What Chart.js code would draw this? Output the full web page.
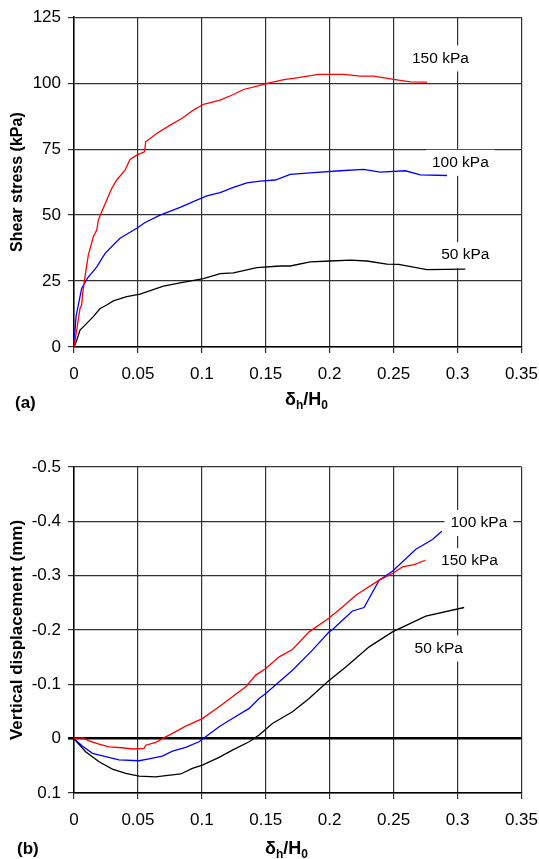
<!DOCTYPE html>
<html>
<head>
<meta charset="utf-8">
<script src="https://cdn.jsdelivr.net/npm/chart.js@4.4.1/dist/chart.umd.min.js"></script>
<style>
  html, body { margin: 0; padding: 0; background: #fff; overflow: hidden; }
  /* a bit wider than the window so the "0.35" overflow padding lands off-screen */
  .panel { position: absolute; left: 0; width: 549px; }
  #wrapA { top: 0; height: 420px; }
  #wrapB { top: 420px; height: 439px; }
</style>
</head>
<body>
<div class="panel" id="wrapA"><canvas id="chartA"></canvas></div>
<div class="panel" id="wrapB"><canvas id="chartB"></canvas></div>
<script>
// ---- data ----
const xTicks = [0, 0.05, 0.1, 0.15, 0.2, 0.25, 0.3, 0.35];
const shearTicks = [0, 25, 50, 75, 100, 125];
const vertTicks = [-0.5, -0.4, -0.3, -0.2, -0.1, 0, 0.1];

// (a) shear stress
const shearX150 = [0, 0.0021, 0.0047, 0.006, 0.0068, 0.0086, 0.0112, 0.0151, 0.0178, 0.019, 0.0217, 0.0256, 0.0295, 0.0334, 0.0399, 0.0438, 0.0491, 0.0551, 0.0561, 0.0647, 0.0752, 0.0843, 0.0934, 0.1012, 0.1143, 0.1247, 0.1326, 0.1456, 0.1509, 0.1652, 0.1717, 0.1913, 0.2109, 0.2239, 0.2343, 0.25, 0.2631, 0.2761];
const shear150 = [0, 6.4, 14.6, 15.9, 20.3, 26.6, 34.8, 41.8, 44.3, 48.1, 51.3, 55.7, 60.1, 63.3, 67, 71.1, 72.7, 74, 77.8, 80.9, 84.1, 86.6, 89.8, 92, 93.6, 95.7, 97.6, 99.2, 99.9, 101.4, 101.8, 103.3, 103.3, 102.7, 102.7, 101.4, 100.5, 100.4];

const shearX100 = [0, 0.0016, 0.0039, 0.006, 0.0104, 0.0178, 0.0243, 0.0321, 0.036, 0.0425, 0.0491, 0.0556, 0.0673, 0.083, 0.096, 0.1039, 0.1143, 0.1247, 0.1352, 0.1456, 0.1574, 0.1691, 0.1848, 0.2083, 0.2265, 0.2396, 0.2592, 0.2709, 0.2918];
const shear100 = [1.5, 11.5, 17.2, 22.2, 26, 30.4, 35.5, 39.3, 41.2, 43.1, 45, 47.2, 50, 52.9, 55.7, 57.3, 58.5, 60.5, 62.2, 62.9, 63.3, 65.4, 66, 66.8, 67.3, 66.3, 66.8, 65.2, 65];

const shearX50 = [0, 0.0021, 0.0047, 0.0086, 0.0151, 0.0204, 0.0256, 0.0308, 0.0412, 0.0517, 0.0699, 0.083, 0.1012, 0.1143, 0.1247, 0.143, 0.1613, 0.1691, 0.1848, 0.2004, 0.2161, 0.2291, 0.2448, 0.2539, 0.2761, 0.3061];
const shear50 = [0, 2.5, 6.4, 8.3, 11.5, 14.6, 15.9, 17.5, 19.1, 20, 23.1, 24.3, 25.9, 27.8, 28.1, 30.1, 30.7, 30.7, 32.3, 32.6, 32.9, 32.6, 31.4, 31.3, 29.3, 29.5];

// (b) vertical displacement
const vertX150 = [0, 0.0065, 0.0117, 0.0196, 0.0274, 0.0378, 0.0457, 0.0548, 0.0561, 0.0639, 0.0691, 0.077, 0.0874, 0.1004, 0.1135, 0.1239, 0.1344, 0.1422, 0.15, 0.1605, 0.1709, 0.1839, 0.1996, 0.21, 0.2204, 0.2387, 0.2491, 0.2569, 0.2661, 0.2747];
const vert150 = [0, -0.002, 0.004, 0.01, 0.015, 0.0167, 0.019, 0.018, 0.012, 0.007, 0, -0.0097, -0.0232, -0.037, -0.0587, -0.077, -0.0955, -0.117, -0.129, -0.1506, -0.164, -0.1966, -0.222, -0.2425, -0.264, -0.2917, -0.304, -0.316, -0.3205, -0.3284];

const vertX100 = [0, 0.0065, 0.0144, 0.0248, 0.0352, 0.0509, 0.0587, 0.0691, 0.077, 0.0874, 0.0978, 0.103, 0.1135, 0.1239, 0.137, 0.1448, 0.15, 0.1605, 0.1709, 0.1865, 0.1996, 0.2022, 0.21, 0.2178, 0.2269, 0.2387, 0.2491, 0.2674, 0.2804, 0.2877];
const vert100 = [0, 0.0136, 0.027, 0.033, 0.039, 0.0406, 0.037, 0.032, 0.023, 0.016, 0.0057, -0.0035, -0.0219, -0.037, -0.0557, -0.074, -0.083, -0.1047, -0.126, -0.163, -0.1966, -0.201, -0.218, -0.235, -0.2414, -0.2917, -0.3082, -0.3487, -0.3665, -0.3817];

const vertX50 = [0, 0.0091, 0.0196, 0.03, 0.0405, 0.0509, 0.064, 0.0718, 0.0835, 0.0926, 0.1004, 0.1135, 0.1239, 0.137, 0.1448, 0.1552, 0.1709, 0.1839, 0.1983, 0.2126, 0.2309, 0.2491, 0.2752, 0.3052];
const vert50 = [0, 0.024, 0.0425, 0.056, 0.064, 0.069, 0.0705, 0.068, 0.065, 0.0546, 0.0486, 0.0345, 0.021, 0.0057, -0.0066, -0.028, -0.0495, -0.074, -0.1047, -0.132, -0.169, -0.1966, -0.2255, -0.2414];

// curve labels
const labelText = ['150 kPa', '100 kPa', '50 kPa'];
const labelAX = [0.2866, 0.3022, 0.3061];
const labelAY = [109.4, 69.8, 34.8];
const labelBX = [0.3094, 0.3167, 0.2853];
const labelBY = [-0.3266, -0.397, -0.166];

const FONT = '"Liberation Sans", Arial, sans-serif';

function pts(xs, ys) {
  return xs.map((x, i) => ({x: x, y: ys[i]}));
}

function series(xs, ys, color) {
  return {
    data: pts(xs, ys),
    borderColor: color,
    borderWidth: 1.3,
    pointRadius: 0,
    fill: false,
    tension: 0
  };
}

const extraText = {
  id: 'extraText',
  beforeDatasetsDraw(chart, args, opts) {
    const ctx = chart.ctx;
    const sx = chart.scales.x, sy = chart.scales.y;
    ctx.save();
    ctx.font = '15.5px ' + FONT;
    ctx.textAlign = 'center';
    ctx.textBaseline = 'middle';
    opts.texts.forEach((t, i) => {
      const px = sx.getPixelForValue(opts.xs[i]);
      const py = sy.getPixelForValue(opts.ys[i]);
      const w = ctx.measureText(t).width + 12;
      ctx.fillStyle = '#fff';
      ctx.fillRect(px - w / 2, py - 13, w, 26);
      ctx.fillStyle = '#000';
      ctx.fillText(t, px, py);
    });
    ctx.restore();
  },
  afterDraw(chart, args, opts) {
    const ctx = chart.ctx;
    ctx.save();
    ctx.fillStyle = '#000';
    ctx.textAlign = 'left';
    ctx.textBaseline = 'alphabetic';
    // δh/H0 with subscripts
    let x = opts.titleX;
    const b = opts.titleY;
    const big = 'bold 18px ' + FONT, small = 'bold 12px ' + FONT;
    [['δ', big, 0], ['h', small, 4], ['/H', big, 0], ['0', small, 4]].forEach(p => {
      ctx.font = p[1];
      ctx.fillText(p[0], x, b + p[2]);
      x += ctx.measureText(p[0]).width;
    });
    ctx.font = 'bold 17px ' + FONT;
    ctx.fillText(opts.panel, opts.panelX, opts.panelY);
    ctx.restore();
  }
};

function xScale(h) {
  return {
    type: 'linear',
    min: 0, max: 0.35,
    afterBuildTicks: s => { s.ticks = xTicks.map(v => ({value: v})); },
    afterFit: s => { s.height = h; },
    ticks: { color: '#000', font: {family: FONT, size: 17}, padding: 11, maxRotation: 0,
             callback: v => String(Math.round(v * 100) / 100) },
    grid: { color: '#333', lineWidth: 1.2, tickLength: 6 },
    border: { color: '#000', width: 1.5 }
  };
}

const common = {
  animation: false,
  responsive: true,
  maintainAspectRatio: false,
  events: [],
  plugins: { legend: { display: false }, tooltip: { enabled: false } }
};

new Chart(document.getElementById('chartA'), {
  type: 'line',
  data: {
    datasets: [
      series(shearX150, shear150, '#ff0000'),
      series(shearX100, shear100, '#0000ff'),
      series(shearX50, shear50, '#000000')
    ]
  },
  options: Object.assign({}, common, {
    layout: { padding: { top: 17, right: 0, left: 0, bottom: 0 } },
    scales: {
      x: xScale(73),
      y: {
        min: 0, max: 125,
        afterBuildTicks: s => { s.ticks = shearTicks.map(v => ({value: v})); },
        afterFit: s => { s.width = 74; },
        ticks: { color: '#000', font: {family: FONT, size: 17}, padding: 7 },
        grid: { color: '#333', lineWidth: 1.2, tickLength: 6 },
        border: { color: '#000', width: 1.5 },
        title: { display: true, text: 'Shear stress (kPa)', color: '#000',
                 font: {family: FONT, size: 16, weight: 'bold'}, padding: {top: 8, bottom: 0} }
      }
    },
    plugins: Object.assign({}, common.plugins, {
      extraText: { texts: labelText, xs: labelAX, ys: labelAY,
                   titleX: 285, titleY: 405, panel: '(a)', panelX: 15, panelY: 408 }
    })
  }),
  plugins: [extraText]
});

new Chart(document.getElementById('chartB'), {
  type: 'line',
  data: {
    datasets: [
      series(vertX150, vert150, '#ff0000'),
      series(vertX100, vert100, '#0000ff'),
      series(vertX50, vert50, '#000000')
    ]
  },
  options: Object.assign({}, common, {
    layout: { padding: { top: 47, right: 0, left: 0, bottom: 0 } },
    scales: {
      x: xScale(66),
      y: {
        min: -0.5, max: 0.1, reverse: true,
        afterBuildTicks: s => { s.ticks = vertTicks.map(v => ({value: v})); },
        afterFit: s => { s.width = 74; },
        ticks: { color: '#000', font: {family: FONT, size: 17}, padding: 7,
                 callback: v => String(Math.round(v * 10) / 10) },
        grid: {
          color: c => (c.tick && c.tick.value === 0) ? '#000' : '#333',
          lineWidth: c => (c.tick && c.tick.value === 0) ? 2.6 : 1.2,
          tickLength: 6
        },
        border: { color: '#000', width: 1.5 },
        title: { display: true, text: 'Vertical displacement (mm)', color: '#000',
                 font: {family: FONT, size: 17, weight: 'bold'}, padding: {top: 7, bottom: 0} }
      }
    },
    plugins: Object.assign({}, common.plugins, {
      extraText: { texts: labelText, xs: labelBX, ys: labelBY,
                   titleX: 265, titleY: 434, panel: '(b)', panelX: 17, panelY: 434 }
    })
  }),
  plugins: [extraText]
});
</script>
</body>
</html>
